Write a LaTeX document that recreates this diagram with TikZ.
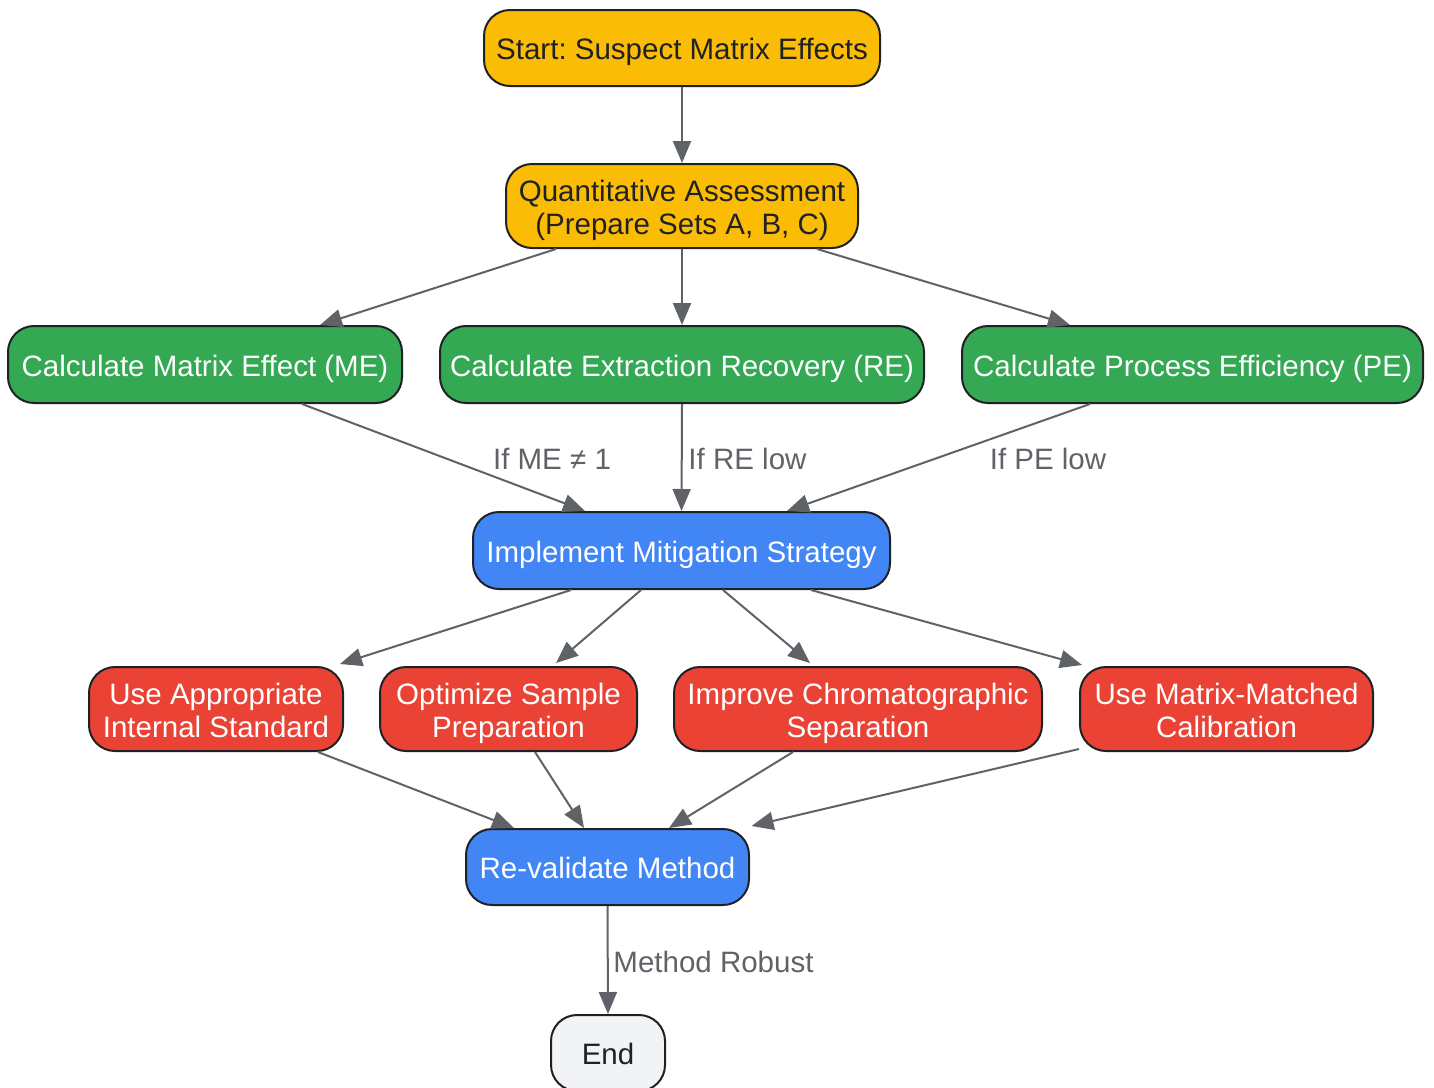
\documentclass[tikz,border=0pt]{standalone}
\usepackage{fontspec}
\setmainfont{Liberation Sans}
\frenchspacing
\usetikzlibrary{arrows.meta,calc}
\definecolor{cyel}{HTML}{FBBC05}
\definecolor{cgrn}{HTML}{34A853}
\definecolor{cblu}{HTML}{4285F4}
\definecolor{cred}{HTML}{EA4335}
\definecolor{cgry}{HTML}{F1F3F4}
\definecolor{cdark}{HTML}{202124}
\definecolor{cedge}{HTML}{5F6368}
\tikzset{
  box/.style={draw=cdark, line width=1pt, rounded corners=13pt, inner sep=0pt, align=center,
    font=\fontsize{14.75}{16.5}\selectfont},
  oneline/.style={text height=12pt, text depth=0.3pt},
  twoline/.style={text height=28.5pt, text depth=0.3pt},
  ybox/.style={box, fill=cyel, text=cdark},
  gbox/.style={box, fill=cgrn, text=white},
  bbox/.style={box, fill=cblu, text=white},
  rbox/.style={box, fill=cred, text=white},
  ebox/.style={box, fill=cgry, text=cdark},
  conn/.style={draw=cedge, line width=1pt, -{Triangle[length=11pt,width=9pt]}},
  elabel/.style={text=cedge, inner sep=0pt, font=\fontsize{14.75}{16.5}\selectfont},
}
\begin{document}
\begin{tikzpicture}[x=0.5pt,y=-0.5pt]
\useasboundingbox[fill=white] (0,0) rectangle (1434,1087);
\node[ybox, oneline, minimum width=198pt, minimum height=38pt] (start) at (682,48) {Start: Suspect Matrix Effects};
\node[ybox, twoline, minimum width=176pt, minimum height=42pt] (quant) at (682,206) {Quantitative Assessment\\(Prepare Sets A, B, C)};
\node[gbox, oneline, minimum width=197pt, minimum height=38.5pt] (me) at (205,364.5) {Calculate Matrix Effect (ME)};
\node[gbox, oneline, minimum width=242pt, minimum height=38.5pt] (re) at (682,364.5) {Calculate Extraction Recovery (RE)};
\node[gbox, oneline, minimum width=230.5pt, minimum height=38.5pt] (pe) at (1192.5,364.5) {Calculate Process Efficiency (PE)};
\node[bbox, oneline, minimum width=208.5pt, minimum height=38.5pt] (impl) at (681.5,550.5) {Implement Mitigation Strategy};
\node[rbox, twoline, minimum width=127pt, minimum height=42pt] (useis) at (216,709) {Use Appropriate\\Internal Standard};
\node[rbox, twoline, minimum width=128.5pt, minimum height=42pt] (opt) at (508.5,709) {Optimize Sample\\Preparation};
\node[rbox, twoline, minimum width=184pt, minimum height=42pt] (impr) at (858,709) {Improve Chromatographic\\Separation};
\node[rbox, twoline, minimum width=146.5pt, minimum height=42pt] (mm) at (1226.5,709) {Use Matrix-Matched\\Calibration};
\node[bbox, oneline, minimum width=141.5pt, minimum height=38pt] (reval) at (607.5,867) {Re-validate Method};
\node[ebox, oneline, minimum width=57pt, minimum height=38pt] (end) at (608,1053) {End};

\draw[conn] (start.south) -- (quant.north);
\draw[conn] ($(quant.south)+(-126,0)$) -- ($(me.north)+(115,0)$);
\draw[conn] (quant.south) -- (re.north);
\draw[conn] ($(quant.south)+(135,0)$) -- ($(pe.north)+(-122.5,0)$);
\draw[conn] ($(me.south)+(97,0)$) -- ($(impl.north)+(-96.5,0)$);
\draw[conn] (re.south) -- (impl.north);
\draw[conn] ($(pe.south)+(-102.5,0)$) -- ($(impl.north)+(105.5,0)$);
\draw[conn] ($(impl.south)+(-110.5,0)$) -- ($(useis.north)+(124,-2)$);
\draw[conn] ($(impl.south)+(-40.5,0)$) -- ($(opt.north)+(47.5,-3)$);
\draw[conn] ($(impl.south)+(41.5,0)$) -- ($(impr.north)+(-48,-3)$);
\draw[conn] ($(impl.south)+(129.5,0)$) -- ($(mm.north)+(-144.5,-1)$);
\draw[conn] ($(useis.south)+(102,0)$) -- ($(reval.north)+(-93.5,0)$);
\draw[conn] ($(opt.south)+(26.5,0)$) -- ($(reval.north)+(-23.5,0)$);
\draw[conn] ($(impr.south)+(-65,0)$) -- ($(reval.north)+(61.5,0)$);
\draw[conn] ($(mm.south)+(-147.5,-3)$) -- ($(reval.north east)+(1.5,-2)$);
\draw[conn] (reval.south) -- (end.north);

\node[elabel] (lme) at (552,459) {If ME ≠ 1};
\node[elabel] (lre) at (747.5,459) {If RE low};
\node[elabel] (lpe) at (1048,459) {If PE low};
\node[elabel] (lrob) at (713.5,962) {Method Robust};
\end{tikzpicture}
\end{document}
